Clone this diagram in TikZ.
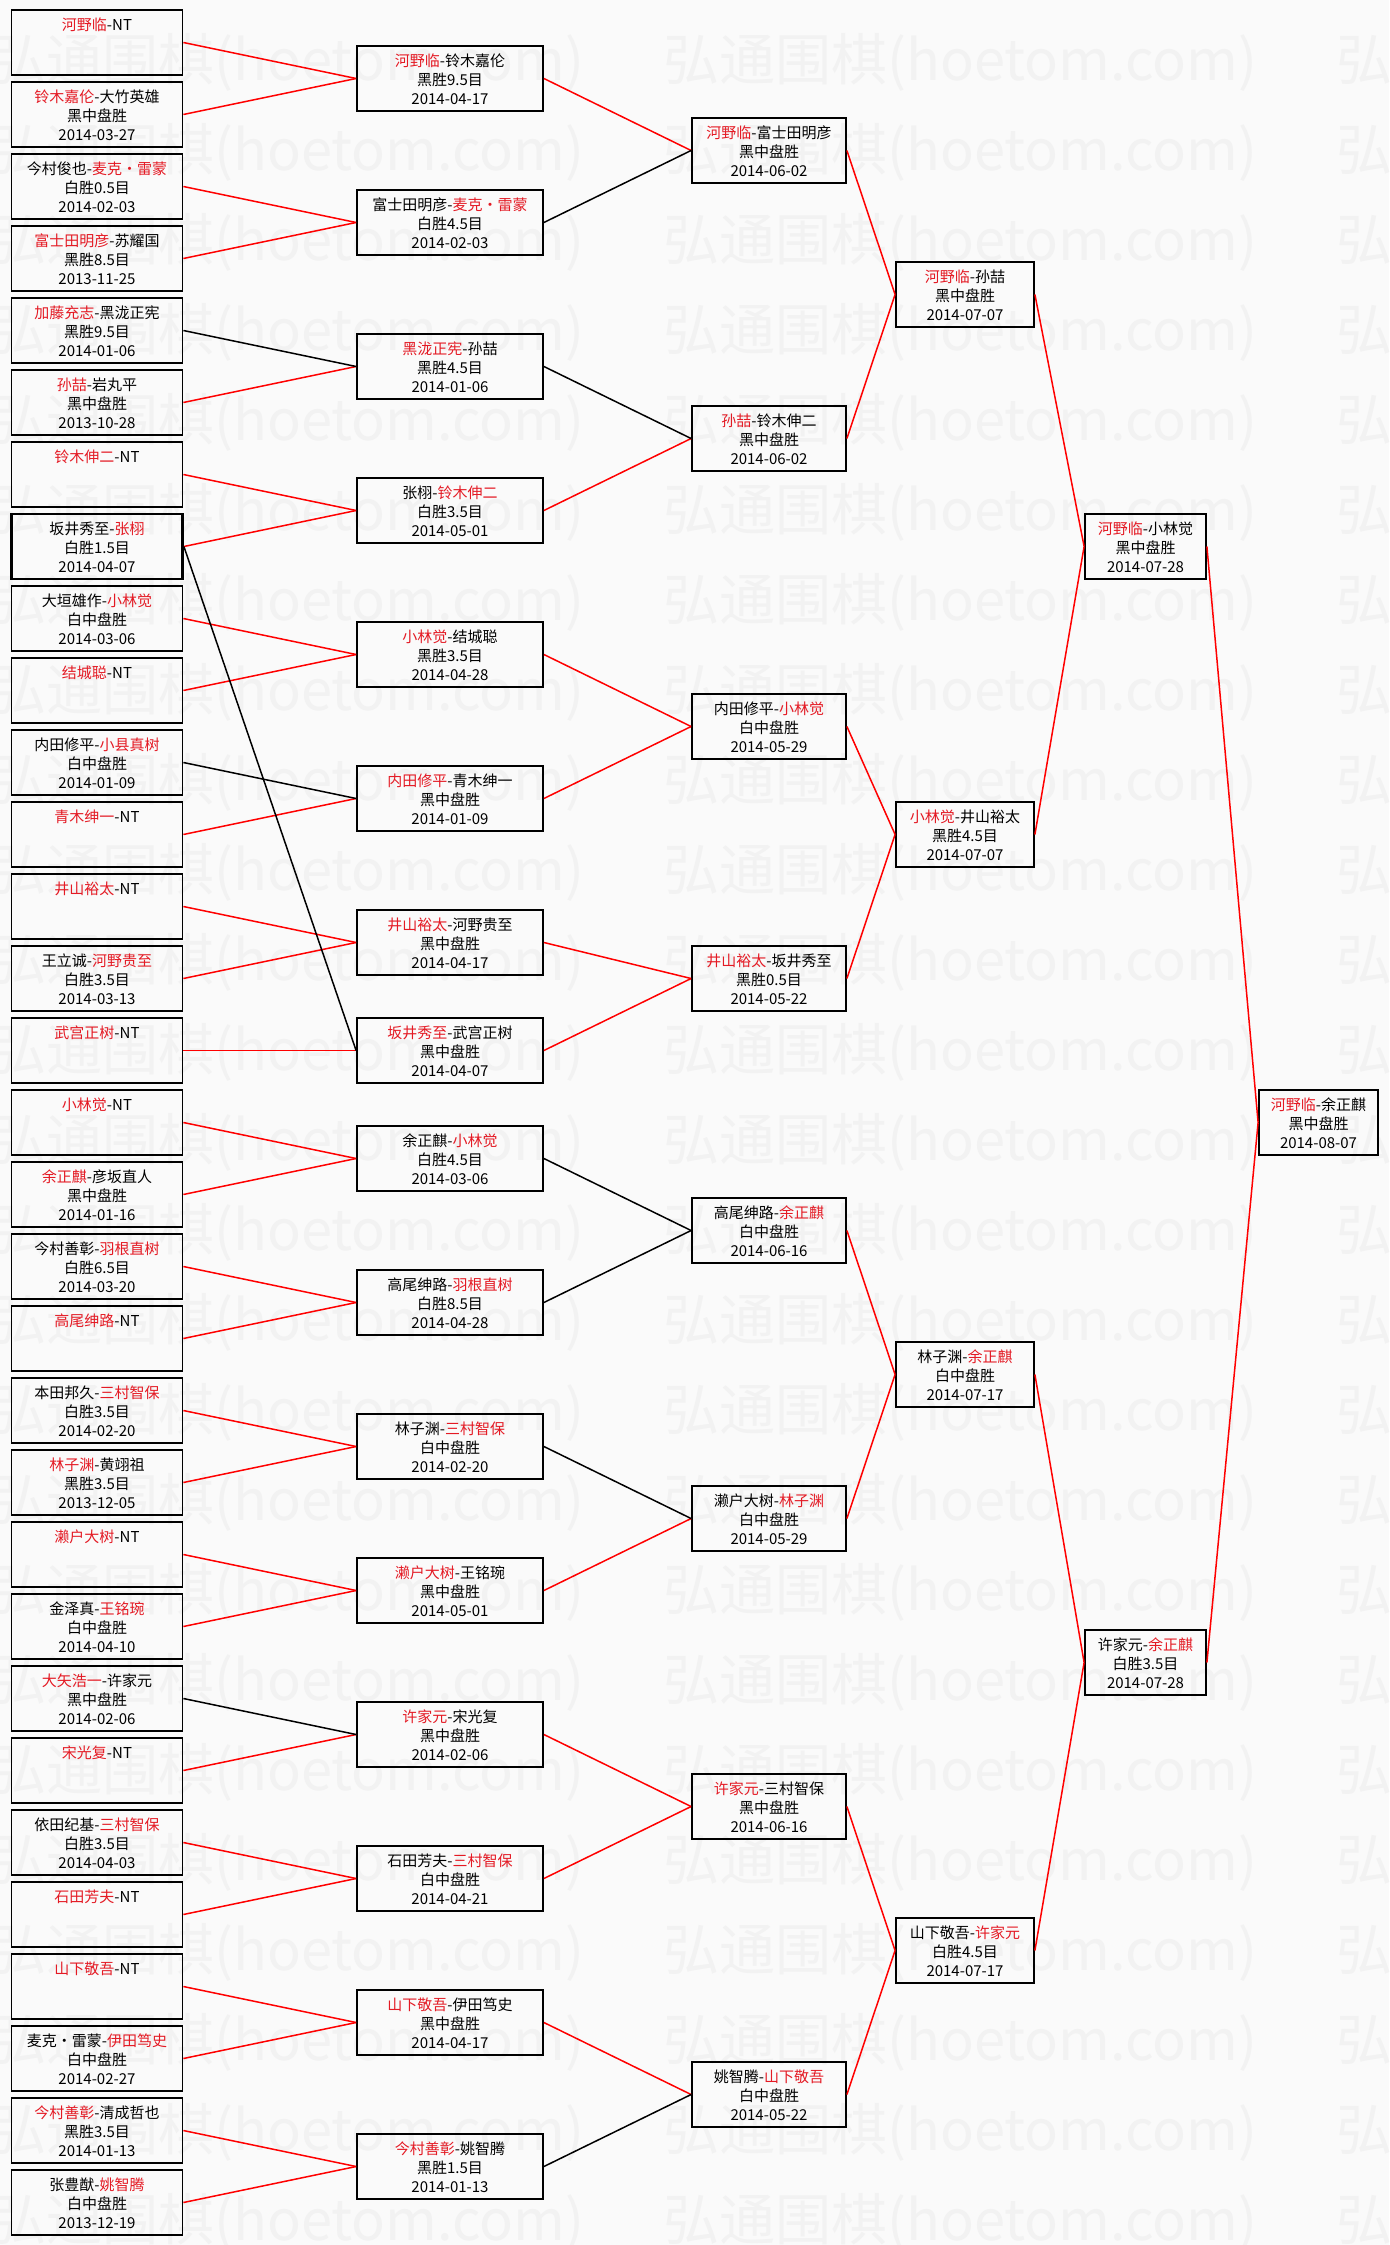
\documentclass[tikz,border=0pt]{standalone}
\usepackage{fontspec}
\setmainfont{Noto Sans CJK SC}
\usetikzlibrary{positioning}

\definecolor{paper}{RGB}{250,250,250}
\definecolor{wmgray}{RGB}{242,242,242}
\definecolor{wintext}{RGB}{228,26,36}
\newcommand{\winner}[1]{\textcolor{wintext}{#1}}
\newcommand{\bout}[3]{\rule{0pt}{20pt}#1\\\strut#2\\\strut#3}

\begin{document}
\begin{tikzpicture}[x=1pt,y=-1pt,
  gamebox/.style={draw, line width=1.8pt, inner sep=0pt, align=center,
    minimum height=65pt, font=\fontsize{15}{19}\selectfont},
  colone/.style={gamebox, minimum width=171pt},
  coltwo/.style={gamebox, minimum width=186pt},
  colthree/.style={gamebox, minimum width=154pt},
  colfour/.style={gamebox, minimum width=138pt},
  colfive/.style={gamebox, minimum width=121pt},
  colsix/.style={gamebox, minimum width=119pt},
  boldbox/.style={line width=2.8pt},
  winlink/.style={red, line width=1.5pt},
  loselink/.style={black, line width=1.5pt},
  wmark/.style={wmgray, font=\fontsize{56}{56}\selectfont, anchor=west, inner sep=0pt}]

  % Page
  \fill[paper] (0,0) rectangle (1389,2245);
  \useasboundingbox (0,0) rectangle (1389,2245);

  % Watermark rows
  \foreach \k in {0,...,24} {
    \foreach \j in {0,1,2} {
      \node[wmark] (wm\k-\j) at ({-10+673*\j},{62+90*\k}) {弘通围棋(hoetom.com)};
    }
  }

  % First round
  \node[colone] (p1) at (97,42.5) {\bout{\winner{河野临}-NT}{}{}};
  \node[colone] (p2) at (97,114.5) {\bout{\winner{铃木嘉伦}-大竹英雄}{黑中盘胜}{2014-03-27}};
  \node[colone] (p3) at (97,186.5) {\bout{今村俊也-\winner{麦克・雷蒙}}{白胜0.5目}{2014-02-03}};
  \node[colone] (p4) at (97,258.5) {\bout{\winner{富士田明彦}-苏耀国}{黑胜8.5目}{2013-11-25}};
  \node[colone] (p5) at (97,330.5) {\bout{\winner{加藤充志}-黑泷正宪}{黑胜9.5目}{2014-01-06}};
  \node[colone] (p6) at (97,402.5) {\bout{\winner{孙喆}-岩丸平}{黑中盘胜}{2013-10-28}};
  \node[colone] (p7) at (97,474.5) {\bout{\winner{铃木伸二}-NT}{}{}};
  \node[colone,boldbox] (p8) at (97,546.5) {\bout{坂井秀至-\winner{张栩}}{白胜1.5目}{2014-04-07}};
  \node[colone] (p9) at (97,618.5) {\bout{大垣雄作-\winner{小林觉}}{白中盘胜}{2014-03-06}};
  \node[colone] (p10) at (97,690.5) {\bout{\winner{结城聪}-NT}{}{}};
  \node[colone] (p11) at (97,762.5) {\bout{内田修平-\winner{小县真树}}{白中盘胜}{2014-01-09}};
  \node[colone] (p12) at (97,834.5) {\bout{\winner{青木绅一}-NT}{}{}};
  \node[colone] (p13) at (97,906.5) {\bout{\winner{井山裕太}-NT}{}{}};
  \node[colone] (p14) at (97,978.5) {\bout{王立诚-\winner{河野贵至}}{白胜3.5目}{2014-03-13}};
  \node[colone] (p15) at (97,1050.5) {\bout{\winner{武宫正树}-NT}{}{}};
  \node[colone] (p16) at (97,1122.5) {\bout{\winner{小林觉}-NT}{}{}};
  \node[colone] (p17) at (97,1194.5) {\bout{\winner{余正麒}-彦坂直人}{黑中盘胜}{2014-01-16}};
  \node[colone] (p18) at (97,1266.5) {\bout{今村善彰-\winner{羽根直树}}{白胜6.5目}{2014-03-20}};
  \node[colone] (p19) at (97,1338.5) {\bout{\winner{高尾绅路}-NT}{}{}};
  \node[colone] (p20) at (97,1410.5) {\bout{本田邦久-\winner{三村智保}}{白胜3.5目}{2014-02-20}};
  \node[colone] (p21) at (97,1482.5) {\bout{\winner{林子渊}-黄翊祖}{黑胜3.5目}{2013-12-05}};
  \node[colone] (p22) at (97,1554.5) {\bout{\winner{濑户大树}-NT}{}{}};
  \node[colone] (p23) at (97,1626.5) {\bout{金泽真-\winner{王铭琬}}{白中盘胜}{2014-04-10}};
  \node[colone] (p24) at (97,1698.5) {\bout{\winner{大矢浩一}-许家元}{黑中盘胜}{2014-02-06}};
  \node[colone] (p25) at (97,1770.5) {\bout{\winner{宋光复}-NT}{}{}};
  \node[colone] (p26) at (97,1842.5) {\bout{依田纪基-\winner{三村智保}}{白胜3.5目}{2014-04-03}};
  \node[colone] (p27) at (97,1914.5) {\bout{\winner{石田芳夫}-NT}{}{}};
  \node[colone] (p28) at (97,1986.5) {\bout{\winner{山下敬吾}-NT}{}{}};
  \node[colone] (p29) at (97,2058.5) {\bout{麦克・雷蒙-\winner{伊田笃史}}{白中盘胜}{2014-02-27}};
  \node[colone] (p30) at (97,2130.5) {\bout{\winner{今村善彰}-清成哲也}{黑胜3.5目}{2014-01-13}};
  \node[colone] (p31) at (97,2202.5) {\bout{张豊猷-\winner{姚智腾}}{白中盘胜}{2013-12-19}};

  % Second round
  \node[coltwo] (a1) at (450,78.5) {\bout{\winner{河野临}-铃木嘉伦}{黑胜9.5目}{2014-04-17}};
  \node[coltwo] (a2) at (450,222.5) {\bout{富士田明彦-\winner{麦克・雷蒙}}{白胜4.5目}{2014-02-03}};
  \node[coltwo] (a3) at (450,366.5) {\bout{\winner{黑泷正宪}-孙喆}{黑胜4.5目}{2014-01-06}};
  \node[coltwo] (a4) at (450,510.5) {\bout{张栩-\winner{铃木伸二}}{白胜3.5目}{2014-05-01}};
  \node[coltwo] (a5) at (450,654.5) {\bout{\winner{小林觉}-结城聪}{黑胜3.5目}{2014-04-28}};
  \node[coltwo] (a6) at (450,798.5) {\bout{\winner{内田修平}-青木绅一}{黑中盘胜}{2014-01-09}};
  \node[coltwo] (a7) at (450,942.5) {\bout{\winner{井山裕太}-河野贵至}{黑中盘胜}{2014-04-17}};
  \node[coltwo] (a8) at (450,1050.5) {\bout{\winner{坂井秀至}-武宫正树}{黑中盘胜}{2014-04-07}};
  \node[coltwo] (a9) at (450,1158.5) {\bout{余正麒-\winner{小林觉}}{白胜4.5目}{2014-03-06}};
  \node[coltwo] (a10) at (450,1302.5) {\bout{高尾绅路-\winner{羽根直树}}{白胜8.5目}{2014-04-28}};
  \node[coltwo] (a11) at (450,1446.5) {\bout{林子渊-\winner{三村智保}}{白中盘胜}{2014-02-20}};
  \node[coltwo] (a12) at (450,1590.5) {\bout{\winner{濑户大树}-王铭琬}{黑中盘胜}{2014-05-01}};
  \node[coltwo] (a13) at (450,1734.5) {\bout{\winner{许家元}-宋光复}{黑中盘胜}{2014-02-06}};
  \node[coltwo] (a14) at (450,1878.5) {\bout{石田芳夫-\winner{三村智保}}{白中盘胜}{2014-04-21}};
  \node[coltwo] (a15) at (450,2022.5) {\bout{\winner{山下敬吾}-伊田笃史}{黑中盘胜}{2014-04-17}};
  \node[coltwo] (a16) at (450,2166.5) {\bout{\winner{今村善彰}-姚智腾}{黑胜1.5目}{2014-01-13}};

  % Third round
  \node[colthree] (b1) at (769,150.5) {\bout{\winner{河野临}-富士田明彦}{黑中盘胜}{2014-06-02}};
  \node[colthree] (b2) at (769,438.5) {\bout{\winner{孙喆}-铃木伸二}{黑中盘胜}{2014-06-02}};
  \node[colthree] (b3) at (769,726.5) {\bout{内田修平-\winner{小林觉}}{白中盘胜}{2014-05-29}};
  \node[colthree] (b4) at (769,978.5) {\bout{\winner{井山裕太}-坂井秀至}{黑胜0.5目}{2014-05-22}};
  \node[colthree] (b5) at (769,1230.5) {\bout{高尾绅路-\winner{余正麒}}{白中盘胜}{2014-06-16}};
  \node[colthree] (b6) at (769,1518.5) {\bout{濑户大树-\winner{林子渊}}{白中盘胜}{2014-05-29}};
  \node[colthree] (b7) at (769,1806.5) {\bout{\winner{许家元}-三村智保}{黑中盘胜}{2014-06-16}};
  \node[colthree] (b8) at (769,2094.5) {\bout{姚智腾-\winner{山下敬吾}}{白中盘胜}{2014-05-22}};

  % Quarter finals
  \node[colfour] (c1) at (965,294.5) {\bout{\winner{河野临}-孙喆}{黑中盘胜}{2014-07-07}};
  \node[colfour] (c2) at (965,834.5) {\bout{\winner{小林觉}-井山裕太}{黑胜4.5目}{2014-07-07}};
  \node[colfour] (c3) at (965,1374.5) {\bout{林子渊-\winner{余正麒}}{白中盘胜}{2014-07-17}};
  \node[colfour] (c4) at (965,1950.5) {\bout{山下敬吾-\winner{许家元}}{白胜4.5目}{2014-07-17}};

  % Semi finals and final
  \node[colfive] (d1) at (1145.5,546.5) {\bout{\winner{河野临}-小林觉}{黑中盘胜}{2014-07-28}};
  \node[colfive] (d2) at (1145.5,1662.5) {\bout{许家元-\winner{余正麒}}{白胜3.5目}{2014-07-28}};
  \node[colsix] (final) at (1318.5,1122.5) {\bout{\winner{河野临}-余正麒}{黑中盘胜}{2014-08-07}};

  % Links: winner carried on in red
  \foreach \i/\j in {1/1,2/1,3/2,4/2,6/3,7/4,8/4,9/5,10/5,12/6,13/7,14/7,15/8,16/9,17/9,
                     18/10,19/10,20/11,21/11,22/12,23/12,25/13,26/14,27/14,28/15,29/15,30/16,31/16}
    \draw[winlink] (p\i.east) -- (a\j.west);
  \foreach \i/\j in {1/1,4/2,5/3,6/3,7/4,8/4,12/6,13/7,14/7,15/8}
    \draw[winlink] (a\i.east) -- (b\j.west);
  \foreach \i/\j in {1/1,2/1,3/2,4/2,5/3,6/3,7/4,8/4}
    \draw[winlink] (b\i.east) -- (c\j.west);
  \foreach \i/\j in {1/1,2/1,3/2,4/2}
    \draw[winlink] (c\i.east) -- (d\j.west);
  \draw[winlink] (d1.east) -- (final.west);
  \draw[winlink] (d2.east) -- (final.west);

  % Links: in black
  \foreach \i/\j in {5/3,8/8,11/6,24/13}
    \draw[loselink] (p\i.east) -- (a\j.west);
  \foreach \i/\j in {2/1,3/2,9/5,10/5,11/6,16/8}
    \draw[loselink] (a\i.east) -- (b\j.west);

\end{tikzpicture}
\end{document}
